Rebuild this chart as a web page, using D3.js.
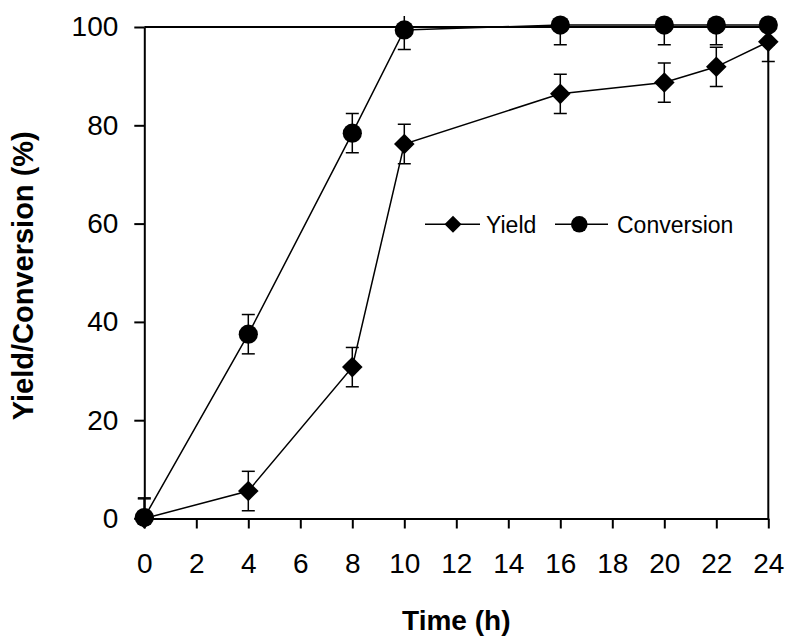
<!DOCTYPE html>
<html>
<head>
<meta charset="utf-8">
<script src="https://cdn.jsdelivr.net/npm/d3@7"></script>
<style>
  body { margin: 0; background: #fff; }
  svg { display: block; font-family: Arial, "Liberation Sans", sans-serif; }
</style>
</head>
<body>
<svg id="canvas"></svg>
<script>
// values
const hours = [0, 4, 8, 10, 16, 20, 22, 24]
const yieldValues = [0, 5.6, 30.8, 76.2, 86.4, 88.7, 91.9, 97.0]
const conversionValues = [0.2, 37.5, 78.4, 99.4, 100.4, 100.4, 100.4, 100.4]
const yieldErrors = [4, 4, 4, 4, 4, 4, 4, 4]
const conversionErrors = [4, 4, 4, 4, 4, 4, 4, 4]
const xTickValues = [0, 2, 4, 6, 8, 10, 12, 14, 16, 18, 20, 22, 24]
const yTickValues = [0, 20, 40, 60, 80, 100]
const seriesNames = ['Yield', 'Conversion']

const width = 787, height = 640
const margin = { left: 144.3, right: 18.7, top: 27, bottom: 121.5 }
const svg = d3.select('#canvas').attr('width', width).attr('height', height)

const x = d3.scaleLinear().domain([0, 24]).range([margin.left, width - margin.right])
const y = d3.scaleLinear().domain([0, 100]).range([height - margin.bottom, margin.top])

// axes
const xAxis = d3.axisBottom(x).tickValues(xTickValues).tickSize(10).tickSizeOuter(0).tickPadding(25)
const yAxis = d3.axisLeft(y).tickValues(yTickValues).tickSize(10).tickSizeOuter(0).tickPadding(16)

const styleAxis = g => {
    g.select('.domain').attr('stroke', '#000').attr('stroke-width', 2)
    g.selectAll('.tick line').attr('stroke', '#000').attr('stroke-width', 2)
    g.selectAll('.tick text').attr('font-size', 28).attr('fill', '#000')
        .attr('font-family', 'Arial, "Liberation Sans", sans-serif')
}

svg.append('g').attr('transform', `translate(0, ${y(0)})`).call(xAxis).call(styleAxis)
svg.append('g').attr('transform', `translate(${x(0)}, 0)`).call(yAxis).call(styleAxis)

// top and right frame lines
svg.append('line').attr('x1', x(0)).attr('x2', x(24)).attr('y1', y(100)).attr('y2', y(100))
    .attr('stroke', '#000').attr('stroke-width', 2)
svg.append('line').attr('x1', x(24)).attr('x2', x(24)).attr('y1', y(100)).attr('y2', y(0))
    .attr('stroke', '#000').attr('stroke-width', 2)

// axis titles
svg.append('text').attr('x', (x(0) + x(24)) / 2).attr('y', 630)
    .attr('text-anchor', 'middle').attr('font-size', 28).attr('font-weight', 'bold')
    .text('Time (h)')
svg.append('text').attr('transform', `translate(33, ${(y(0) + y(100)) / 2 + 3}) rotate(-90)`)
    .attr('text-anchor', 'middle').attr('font-size', 29).attr('font-weight', 'bold')
    .text('Yield/Conversion (%)')

// clip error bars to a band just above the plot top down to the x axis
svg.append('clipPath').attr('id', 'errclip').append('rect')
    .attr('x', 0).attr('y', y(100) - 11).attr('width', width).attr('height', y(0) - y(100) + 11)

const series = [
    { name: seriesNames[0], values: yieldValues, errors: yieldErrors, shape: 'diamond' },
    { name: seriesNames[1], values: conversionValues, errors: conversionErrors, shape: 'circle' }
]

const capHalf = 6.5
const errG = svg.append('g').attr('clip-path', 'url(#errclip)')
    .attr('stroke', '#000').attr('stroke-width', 1.5)
series.forEach(s => {
    hours.forEach((h, i) => {
        const top = y(s.values[i] + s.errors[i]), bottom = y(s.values[i] - s.errors[i])
        errG.append('line').attr('x1', x(h)).attr('x2', x(h)).attr('y1', top).attr('y2', bottom)
        errG.append('line').attr('x1', x(h) - capHalf).attr('x2', x(h) + capHalf).attr('y1', top).attr('y2', top)
        errG.append('line').attr('x1', x(h) - capHalf).attr('x2', x(h) + capHalf).attr('y1', bottom).attr('y2', bottom)
    })
})

const line = d3.line().x(d => x(d[0])).y(d => y(d[1]))
series.forEach(s => {
    svg.append('path').datum(hours.map((h, i) => [h, s.values[i]]))
        .attr('d', line).attr('fill', 'none').attr('stroke', '#000').attr('stroke-width', 1.5)
})

const drawMarker = (g, shape, cx, cy, size) => {
    if (shape === 'circle') {
        g.append('circle').attr('cx', cx).attr('cy', cy).attr('r', size).attr('fill', '#000')
    } else {
        g.append('path').attr('d', `M${cx},${cy - size}L${cx + size},${cy}L${cx},${cy + size}L${cx - size},${cy}Z`)
            .attr('fill', '#000')
    }
}

const markG = svg.append('g')
series.slice().reverse().forEach(s => {
    hours.forEach((h, i) => drawMarker(markG, s.shape, x(h), y(s.values[i]), s.shape === 'circle' ? 9.6 : 10.3))
})

// legend
const legendY = 224.3
const legendItems = [
    { s: series[0], x1: 425, x2: 480, mx: 453, tx: 486 },
    { s: series[1], x1: 555, x2: 608, mx: 579.3, tx: 617 }
]
legendItems.forEach(item => {
    svg.append('line').attr('x1', item.x1).attr('x2', item.x2).attr('y1', legendY).attr('y2', legendY)
        .attr('stroke', '#000').attr('stroke-width', 1.5)
    drawMarker(svg, item.s.shape, item.mx, legendY, item.s.shape === 'circle' ? 8.3 : 8.5)
    svg.append('text').attr('x', item.tx).attr('y', legendY).attr('dy', '0.36em')
        .attr('font-size', 23).text(item.s.name)
})
</script>
</body>
</html>
